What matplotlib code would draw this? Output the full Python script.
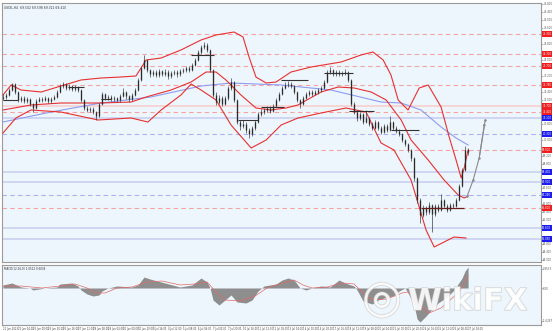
import matplotlib
matplotlib.use("Agg")
import matplotlib.pyplot as plt
import matplotlib.patheffects as pe
import matplotlib.transforms as mtrans
import numpy as np

# ---- price bars (H4) ----
FIRST_OPEN = 72.10
closes = [
    72.15, 72.25, 72.50, 72.80, 72.40, 72.00, 72.10, 71.95, 72.05, 71.80,
    71.60, 71.95, 72.05, 72.00, 72.10, 71.95, 72.05, 72.15, 72.40, 72.70,
    72.80, 72.60, 72.70, 72.55, 72.65, 72.50, 72.00, 71.60, 71.50, 71.55,
    71.40, 71.20, 71.80, 72.30, 72.10, 72.15, 72.05, 72.10, 72.00, 72.20,
    72.40, 72.20, 72.05, 72.25, 72.50, 73.00, 73.60, 74.00, 73.50, 73.30,
    73.40, 73.25, 73.45, 73.30, 73.40, 73.20, 73.35, 73.40, 73.30, 73.45,
    73.50, 73.60, 73.50, 73.75, 74.00, 74.40, 74.65, 74.75, 74.50, 73.50,
    72.25, 71.90, 72.10, 71.80, 72.10, 72.60, 72.90, 72.00, 70.90, 70.70,
    70.80, 70.50, 70.30, 70.60, 70.90, 71.30, 71.40, 71.50, 71.60, 71.45,
    71.70, 72.00, 72.30, 72.60, 72.75, 72.80, 72.70, 72.40, 72.00, 71.80,
    72.10, 72.30, 72.40, 72.30, 72.40, 72.50, 72.60, 72.90, 73.40, 73.50,
    73.30, 73.40, 73.30, 73.35, 73.40, 73.00, 71.80, 71.40, 71.10, 71.30,
    70.90, 71.10, 70.80, 70.60, 70.90, 70.60, 70.40, 70.70, 70.50, 70.90,
    70.60, 70.45, 70.30, 70.00, 69.80, 69.50, 69.10, 68.10, 67.00, 66.25,
    66.60, 66.40, 66.75, 66.30, 66.70, 66.50, 67.00, 66.70, 66.50, 66.75,
    66.70, 67.00, 67.70, 68.50, 69.50, 69.40,
]
highs = [
    72.30, 72.35, 72.60, 72.85, 72.85, 72.45, 72.20, 72.20, 72.15, 72.10,
    71.85, 72.05, 72.15, 72.15, 72.20, 72.15, 72.15, 72.25, 72.50, 72.80,
    72.90, 72.85, 72.80, 72.75, 72.75, 72.70, 72.55, 72.05, 71.70, 71.65,
    71.65, 71.45, 71.85, 72.40, 72.35, 72.25, 72.25, 72.20, 72.15, 72.30,
    72.60, 72.45, 72.25, 72.35, 72.60, 73.10, 73.70, 74.25, 74.05, 73.55,
    73.50, 73.50, 73.55, 73.50, 73.55, 73.50, 73.45, 73.50, 73.50, 73.55,
    73.60, 73.70, 73.70, 73.85, 74.10, 74.50, 74.75, 74.90, 74.85, 74.55,
    73.55, 72.40, 72.25, 72.20, 72.20, 72.70, 73.10, 72.95, 72.05, 71.00,
    71.00, 70.90, 70.60, 70.70, 71.00, 71.40, 71.55, 71.60, 71.70, 71.70,
    71.80, 72.10, 72.40, 72.70, 72.90, 72.95, 72.90, 72.75, 72.45, 72.05,
    72.20, 72.40, 72.50, 72.50, 72.50, 72.60, 72.70, 73.00, 73.50, 73.65,
    73.55, 73.50, 73.50, 73.45, 73.55, 73.45, 73.05, 71.90, 71.50, 71.40,
    71.35, 71.50, 71.15, 70.90, 71.00, 70.95, 70.70, 70.80, 70.80, 71.20,
    70.95, 70.70, 70.55, 70.35, 70.05, 69.85, 69.55, 69.15, 68.15, 67.10,
    66.75, 66.70, 66.90, 66.80, 66.80, 66.80, 67.30, 67.05, 66.80, 66.85,
    66.85, 67.10, 67.80, 68.60, 69.70, 69.60,
]
lows = [
    72.00, 72.05, 72.20, 72.45, 72.30, 71.90, 71.90, 71.85, 71.85, 71.70,
    71.40, 71.55, 71.90, 71.90, 71.95, 71.85, 71.85, 72.00, 72.10, 72.35,
    72.60, 72.50, 72.50, 72.45, 72.45, 72.40, 71.90, 71.50, 71.40, 71.40,
    71.30, 71.00, 71.15, 71.75, 72.00, 72.00, 71.95, 71.95, 71.90, 71.90,
    72.15, 72.05, 71.90, 71.95, 72.20, 72.45, 72.95, 73.55, 73.40, 73.15,
    73.20, 73.15, 73.15, 73.20, 73.20, 73.05, 73.10, 73.25, 73.15, 73.20,
    73.35, 73.40, 73.40, 73.45, 73.70, 73.95, 74.30, 74.55, 74.40, 73.40,
    72.15, 71.75, 71.80, 71.70, 71.75, 72.00, 72.50, 71.90, 70.80, 70.50,
    70.60, 70.35, 70.10, 70.20, 70.50, 70.85, 71.20, 71.30, 71.40, 71.35,
    71.40, 71.65, 71.95, 72.25, 72.55, 72.65, 72.60, 72.30, 71.90, 71.60,
    71.75, 72.05, 72.20, 72.20, 72.25, 72.30, 72.40, 72.55, 72.85, 73.30,
    73.20, 73.20, 73.20, 73.20, 73.25, 72.90, 71.70, 71.30, 70.95, 71.00,
    70.80, 70.85, 70.70, 70.50, 70.55, 70.50, 70.30, 70.35, 70.40, 70.45,
    70.50, 70.35, 70.20, 69.90, 69.70, 69.40, 68.95, 67.95, 66.85, 65.85,
    66.15, 66.25, 66.30, 65.40, 66.20, 66.40, 66.45, 66.60, 66.40, 66.45,
    66.60, 66.65, 66.95, 67.65, 68.45, 69.25,
]

# ---- Bollinger bands and slow MA, read at key bars ----
bb_up_x = [0, 2.7, 6, 12.7, 19.3, 26, 32.7, 39.3, 44.3, 46, 47.7, 52.7, 59.3, 66, 71, 77, 80,
           82, 84.3, 87.7, 91, 96, 102.7, 112.7, 119.3, 123.3, 126.7, 129.3, 131.7, 135,
           138.7, 141.7, 146, 148.7, 151, 152.7, 153.7, 155]
bb_up = [72.25, 72.75, 72.50, 72.40, 72.70, 73.00, 73.10, 73.15, 73.20, 73.60, 74.00, 74.10,
         74.50, 75.00, 75.25, 75.40, 75.15, 74.15, 73.15, 72.85, 72.90, 73.40, 73.65, 73.90,
         74.25, 74.40, 74.00, 73.25, 72.00, 71.50, 72.60, 72.75, 71.65, 70.15, 69.00, 68.10,
         68.60, 69.50]
bb_mid_x = [0, 9.3, 19.3, 32.7, 42.7, 47.7, 56, 62.7, 67.7, 71, 74.3, 79.3, 84.3, 89.3, 94.3,
            98.3, 106, 111.7, 117, 122.7, 127.7, 132.7, 136, 141.7, 147, 151.7, 153.7, 155]
bb_mid = [71.50, 71.75, 71.85, 71.85, 71.90, 72.15, 72.50, 72.90, 73.40, 73.40, 73.00, 72.25,
          71.60, 71.50, 71.60, 71.75, 72.40, 72.65, 72.60, 72.40, 72.00, 71.00, 70.00, 69.00,
          68.00, 67.25, 67.10, 67.20]
bb_lo_x = [0, 4.3, 9.3, 19.3, 31.7, 42.7, 48.3, 52.7, 59.3, 62.7, 66, 71, 76, 82.7, 87.7, 92.7,
           98.3, 106, 114.3, 121, 126, 130.3, 136, 141, 143.7, 150.3, 154.3]
bb_lo = [70.35, 71.10, 71.50, 71.40, 71.00, 71.10, 70.90, 71.50, 72.25, 72.80, 72.50, 72.00,
         70.75, 69.60, 70.00, 70.75, 71.10, 71.35, 71.60, 71.40, 69.85, 69.50, 68.00, 65.50,
         64.65, 65.15, 65.10]
ma_x = [0, 16, 32.7, 49.3, 66, 76, 92.7, 109.3, 126, 132.7, 139.3, 146, 151, 155]
ma = [70.90, 71.40, 71.85, 72.15, 72.70, 72.85, 72.75, 72.50, 71.90, 71.85, 71.50, 70.65,
      70.10, 69.75]

# projection arrow
proj_x = [154.7, 156.7, 158.7, 160.7]
proj_y = [67.20, 68.00, 69.10, 71.00]

# horizontal levels
red_dash = [75.30, 74.30, 73.70, 72.75, 71.40, 69.50, 66.60]
red_solid = [71.70]
blue_dash = [70.30, 67.25]
blue_solid = [71.10, 68.40, 67.90, 65.60, 65.05]

# short level segments (start bar, end bar, price)
seg_x0 = [0, 21.7, 32.7, 62.7, 78.3, 86, 92.7, 107, 115.3, 129.3]
seg_x1 = [5, 27, 36, 70.3, 85, 93.7, 101.7, 116.7, 123.7, 138.7]
seg_p = [72.00, 72.65, 72.05, 74.25, 71.00, 71.65, 73.00, 73.35, 71.45, 70.50]
last_seg = (139.3, 153.7, 66.60)

# ---- MACD ----
macd_x = [0, 3, 6, 9, 10, 14, 18, 19, 23, 25, 26, 28, 30, 32, 33, 35, 38, 43, 45, 47, 49, 54,
          59, 63, 66, 68, 69, 70, 72, 74, 76, 78, 81, 83, 85, 87, 91, 93, 95, 97, 99, 101,
          103, 106, 109, 112, 114, 117, 118, 120, 123, 125, 128, 130, 132, 134, 135, 137,
          138, 139, 141, 143, 145, 148, 150, 151, 153, 154, 155]
macd = [0.15, 0.25, 0.05, 0.0, -0.10, 0.0, 0.05, 0.20, 0.25, 0.10, -0.10, -0.30, -0.40,
        -0.35, -0.15, 0.0, 0.10, 0.05, 0.15, 0.55, 0.45, 0.25, 0.05, 0.15, 0.50, 0.30, 0.0,
        -0.60, -0.85, -0.60, -0.35, -0.70, -0.75, -0.60, -0.15, 0.10, 0.20, 0.40, 0.50, 0.40,
        0.0, -0.10, 0.0, 0.10, 0.05, 0.40, 0.25, 0.10, -0.10, -0.65, -0.80, -0.60, -0.45,
        -0.40, -0.15, 0.0, -0.25, -0.85, -1.55, -1.70, -1.40, -1.05, -0.75, -0.45, -0.15,
        0.05, 0.50, 0.85, 1.05]
sig_x = [0, 6, 13, 19, 24, 28, 31, 34, 38, 43, 48, 53, 59, 64, 68, 71, 74, 79, 84, 88, 93, 97,
         100, 103, 108, 113, 117, 120, 123, 128, 133, 135, 139, 142, 146, 149, 152, 155]
sig = [0.10, 0.10, 0.0, 0.10, 0.20, 0.0, -0.25, -0.25, 0.0, 0.05, 0.30, 0.35, 0.15, 0.20,
       0.30, -0.20, -0.60, -0.65, -0.40, 0.0, 0.25, 0.40, 0.15, 0.0, 0.05, 0.25, 0.20, -0.25,
       -0.60, -0.55, -0.25, -0.20, -0.90, -1.25, -1.00, -0.60, -0.20, 0.60]

date_labels = [
    "21 Jun 2023", "22 Jun 04:00", "23 Jun 00:00", "23 Jun 20:00", "26 Jun 16:00",
    "27 Jun 12:00", "28 Jun 08:00", "29 Jun 04:00", "30 Jun 00:00", "30 Jun 20:00",
    "3 Jul 16:00", "4 Jul 12:00", "5 Jul 08:00", "6 Jul 04:00", "7 Jul 00:00",
    "7 Jul 20:00", "10 Jul 16:00", "11 Jul 12:00", "12 Jul 08:00", "13 Jul 04:00",
    "14 Jul 00:00", "14 Jul 20:00", "17 Jul 16:00", "18 Jul 12:00", "19 Jul 08:00",
    "20 Jul 04:00", "21 Jul 00:00", "21 Jul 20:00", "24 Jul 16:00", "25 Jul 12:00",
    "26 Jul 08:00", "27 Jul 04:00",
]

BG = "#eef6fd"
RED = "#e8302e"
W, H = 553, 331
FS = 1.9


def box(x0, y0, x1, y1):
    return [x0 / W, 1 - y1 / H, (x1 - x0) / W, (y1 - y0) / H]


fig = plt.figure(figsize=(W / 100, H / 100), dpi=100)
fig.patch.set_facecolor("white")
ax = fig.add_axes(box(2, 3, 541, 262))
ax2 = fig.add_axes(box(2, 265, 541, 325))

for a in (ax, ax2):
    a.set_facecolor(BG)
    for s in a.spines.values():
        s.set_color("#9a9a9a")
        s.set_linewidth(0.8)
    a.set_xlim(-0.33, 179.3)

ax.set_ylim(63.90, 76.85)
ax2.set_ylim(-1.85, 1.15)

# levels
for p in red_dash:
    ax.axhline(p, color="#f4a3a3", lw=0.8, ls=(0, (4, 3)), zorder=1)
for p in red_solid:
    ax.axhline(p, color="#f8cfcf", lw=1.2, zorder=1)
for p in blue_dash:
    ax.axhline(p, color="#a9b1f2", lw=0.8, ls=(0, (4, 3)), zorder=1)
for p in blue_solid:
    ax.axhline(p, color="#cfd6f2", lw=1.4, zorder=1)

# candles
x = np.arange(len(closes))
opens = [FIRST_OPEN] + closes[:-1]
ax.vlines(x, lows, highs, color="#404040", lw=0.5, zorder=4)
ax.vlines(x, np.minimum(opens, closes), np.maximum(opens, closes), color="#2a2a2a",
          lw=0.95, zorder=4)

# indicators
ax.plot(ma_x, ma, color="#8e9cf0", lw=0.8, zorder=3)
ax.plot(bb_up_x, bb_up, color=RED, lw=0.8, zorder=3)
ax.plot(bb_mid_x, bb_mid, color=RED, lw=0.8, zorder=3)
ax.plot(bb_lo_x, bb_lo, color=RED, lw=0.8, zorder=3)

ax.hlines(seg_p, seg_x0, seg_x1, color="#333333", lw=0.8, zorder=5)
ax.hlines(last_seg[2], last_seg[0], last_seg[1], color="#6b1e1e", lw=0.9, zorder=5)

ax.plot(proj_x, proj_y, color="#8a8a8a", lw=0.8, marker="o", ms=0.8, zorder=5)
ax.annotate("", xy=(proj_x[-1], proj_y[-1]), xytext=(proj_x[-2], proj_y[-2]),
            arrowprops=dict(arrowstyle="-|>", color="#8a8a8a", lw=0.8, mutation_scale=3))

# right price scale: plain ticks, skipping those hidden by the level tags
marked = red_dash + red_solid + blue_dash + blue_solid
ticks = [t for t in np.arange(64.0, 76.81, 0.4) if min(abs(t - m) for m in marked) > 0.18]
ax.yaxis.tick_right()
ax.set_yticks(ticks)
ax.set_yticklabels([f"{t:.3f}" for t in ticks], fontsize=FS)
ax.tick_params(axis="y", length=1.2, width=0.4, pad=0.5, colors="#777777")
for lab in ax.get_yticklabels():
    lab.set_color("#555555")
ax.set_xticks([])
trans = mtrans.blended_transform_factory(ax.transAxes, ax.transData)
for p in red_dash + red_solid:
    ax.text(1.0025, p, f"{p:.3f}", transform=trans, fontsize=FS, color="white",
            va="center", ha="left",
            bbox=dict(boxstyle="square,pad=0.2", fc="#f01e1e", ec="none"))
for p in blue_dash + blue_solid:
    ax.text(1.0025, p, f"{p:.3f}", transform=trans, fontsize=FS, color="white",
            va="center", ha="left",
            bbox=dict(boxstyle="square,pad=0.2", fc="#1c1cf0", ec="none"))

ax.text(0.004, 0.988, "USOIL,H4  69.502 69.598 69.321 69.410", transform=ax.transAxes,
        fontsize=2.2, color="#333333", va="top", ha="left")

# MACD panel
ax2.fill_between(macd_x, 0, macd, color="#8e8e8e", lw=0, zorder=2)
ax2.plot(sig_x, sig, color="#e26a6a", lw=0.5, zorder=3)
ax2.yaxis.tick_right()
ax2.set_yticks([-1.6297, 0.0, 0.9533])
ax2.set_yticklabels(["-1.6297", "0.00", "0.9533"], fontsize=FS)
ax2.tick_params(axis="y", length=1.2, width=0.4, pad=0.5, colors="#777777")
for lab in ax2.get_yticklabels():
    lab.set_color("#555555")
ax2.text(0.004, 0.97, "MACD(12,26,9) 1.0512 0.6034", transform=ax2.transAxes,
         fontsize=2.0, color="#333333", va="top", ha="left")

xt = np.arange(0, len(closes), 5)
ax2.set_xticks(xt)
ax2.set_xticklabels(date_labels[:len(xt)], fontsize=1.8, ha="left")
ax2.tick_params(axis="x", length=1.0, width=0.4, pad=0.4, colors="#777777")
for lab in ax2.get_xticklabels():
    lab.set_color("#444444")

# watermark
stroke = [pe.withStroke(linewidth=1.0, foreground="#c8c8c8")]
fig.text(362 / W, 1 - 322 / H, "\u25CE", fontsize=33, color="white", alpha=0.7,
         ha="left", va="bottom", path_effects=stroke)
fig.text(408 / W, 1 - 316 / H, "WikiFX", fontsize=22, color="white", alpha=0.7,
         ha="left", va="bottom", fontweight="bold", path_effects=stroke)

fig.savefig("out.png", dpi=100, facecolor=fig.get_facecolor())
